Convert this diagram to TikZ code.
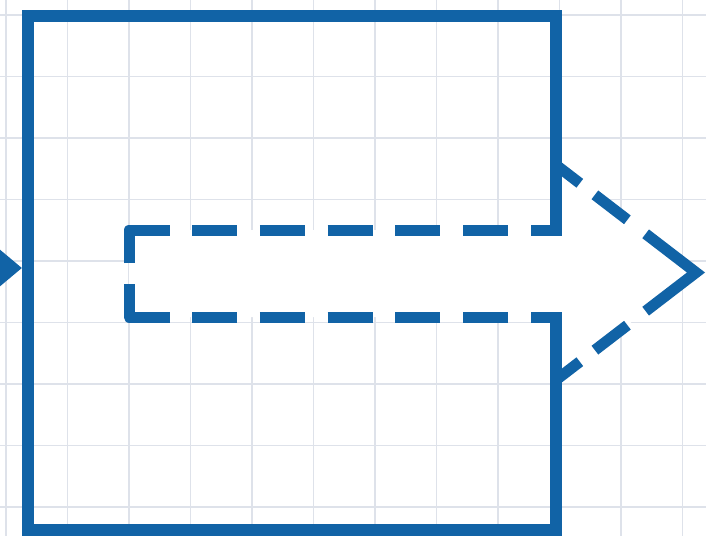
\documentclass[tikz,border=0pt]{standalone}
\usetikzlibrary{arrows.meta}
\definecolor{boxblue}{RGB}{17,99,166}
\definecolor{gridgray}{RGB}{222,226,234}
\tikzset{
  gridline/.style={draw=gridgray, line width=1.5pt},
  boxline/.style={draw=boxblue, line width=12pt, line join=miter},
  flowline/.style={draw=boxblue, line width=11pt},
  shaftdash/.style={flowline, line join=round,
    dash pattern=on 74pt off 22pt on 45pt off 22.8pt on 45pt off 22.8pt on 45pt off 22.8pt
      on 45pt off 22.8pt on 45pt off 22.8pt on 45pt off 22.8pt,
    dash phase=492.3pt},
  headdash/.style={flowline, line join=miter,
    dash pattern=on 30pt off 19pt on 41pt off 23pt on 127pt off 23pt on 41pt off 19pt on 30pt off 20pt}
}
\begin{document}
\begin{tikzpicture}[x=1pt,y=-1pt]
\useasboundingbox (0,0) rectangle (706,536);
\fill[white] (0,0) rectangle (706,536);
% grid
\foreach \i in {0,...,11}
  \draw[gridline] ({6+61.5*\i},0) -- ({6+61.5*\i},536);
\foreach \j in {0,...,8}
  \draw[gridline] (0,{15+61.5*\j}) -- (706,{15+61.5*\j});
% flow arrow through the box
\coordinate (tail) at (129,273.5);
\coordinate (shaftNW) at (129,230);
\coordinate (shaftNE) at (556,230);
\coordinate (shaftSW) at (129,317);
\coordinate (shaftSE) at (556,317);
\coordinate (notchN) at (556,165);
\coordinate (notchS) at (556,380);
\coordinate (tip) at (696,272.5);
\fill[white] (shaftNW) -- (shaftNE) -- (notchN) -- (tip) -- (notchS) -- (shaftSE) -- (shaftSW) -- cycle;
\draw[shaftdash] (tail) -- (shaftNW) -- (shaftNE);
\draw[shaftdash] (tail) -- (shaftSW) -- (shaftSE);
\draw[headdash] (notchN) -- (tip) -- (notchS);
% box, open where the arrow leaves
\draw[boxline] (556,235.5) -- (556,16) -- (28,16) -- (28,530) -- (556,530) -- (556,311.5);
% incoming connector
\coordinate (feed) at (-60,268);
\coordinate (inlet) at (22,268);
\draw[boxline, -{Triangle[length=30pt,width=48pt]}] (feed) -- (inlet);
\end{tikzpicture}
\end{document}
